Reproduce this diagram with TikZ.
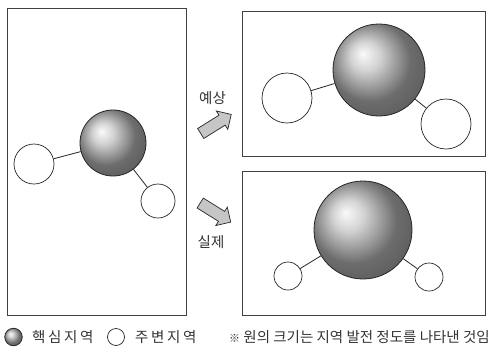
\documentclass[tikz,border=0pt]{standalone}
\usepackage{fontspec}
\setmainfont{Noto Sans CJK KR}
\newfontfamily\spacedkr[LetterSpace=18]{Noto Sans CJK KR}
\usetikzlibrary{shapes.arrows}
\pgfdeclareradialshading{sphshade}{\pgfpoint{-9bp}{9bp}}{%
  color(0bp)=(white!96!gray);
  color(8bp)=(gray!35);
  color(22bp)=(gray!85!black);
  color(30bp)=(gray!75!black);
  color(50bp)=(gray!70!black)}
\tikzset{
  frame/.style={draw=black!75, line width=0.8pt},
  core/.style={circle, draw=black!85, line width=0.8pt, shading=sphshade, inner sep=0pt},
  edge/.style={circle, draw=black!85, line width=0.7pt, fill=white, inner sep=0pt},
  bond/.style={draw=black!85, line width=0.8pt},
  blockarrow/.style={single arrow, draw=black!85, line width=0.7pt, fill=gray!45,
    minimum height=36pt, minimum width=21pt, single arrow head extend=5pt,
    single arrow head indent=0pt, inner xsep=0pt, inner ysep=5.5pt},
  lbl/.style={text=black!80, font=\fontsize{14.5}{15}\selectfont, inner sep=0pt}
}
\begin{document}
\begin{tikzpicture}[x=1pt, y=-1pt]
\useasboundingbox (0,0) rectangle (499,349);
% frames
\draw[frame] (7,8) rectangle (186,315);
\draw[frame] (242,11) rectangle (485,156);
\draw[frame] (242,171) rectangle (485,315);
% left
\node[core, minimum size=66pt] (L0) at (113,143) {};
\node[edge, minimum size=40pt] (L1) at (34,164) {};
\node[edge, minimum size=34pt] (L2) at (158,201) {};
\draw[bond] (L0) -- (L1);
\draw[bond] (L0) -- (L2);
% top right
\node[core, minimum size=92pt] (T0) at (379,70) {};
\node[edge, minimum size=50pt] (T1) at (287,98) {};
\node[edge, minimum size=50pt] (T2) at (446,124) {};
\draw[bond] (T0) -- (T1);
\draw[bond] (T0) -- (T2);
% bottom right
\node[core, minimum size=98pt] (B0) at (363,230) {};
\node[edge, minimum size=28pt] (B1) at (288,276) {};
\node[edge, minimum size=28pt] (B2) at (429,277) {};
\draw[bond] (B0) -- (B1);
\draw[bond] (B0) -- (B2);
% arrows
\node[blockarrow, rotate=32] (A1) at (213.5,125.5) {};
\node[blockarrow, rotate=-32] (A2) at (213,211) {};
\node[lbl] (t1) at (212.5,98.5) {예상};
\node[lbl] (t2) at (211,242) {실제};
% legend
\node[core, minimum size=17.5pt] (g1) at (13.5,337) {};
\node[lbl, anchor=west, font=\spacedkr\fontsize{14.5}{15}\selectfont] (g1t) at (32,337) {핵심지역};
\node[edge, minimum size=17pt] (g2) at (116,337) {};
\node[lbl, anchor=west, font=\spacedkr\fontsize{14.5}{15}\selectfont] (g2t) at (135,337) {주변지역};
\node[lbl, anchor=west] (note) at (229,337) {{\fontsize{11}{11}\selectfont ※} 원의 크기는 지역 발전 정도를 나타낸 것임};
\end{tikzpicture}
\end{document}
